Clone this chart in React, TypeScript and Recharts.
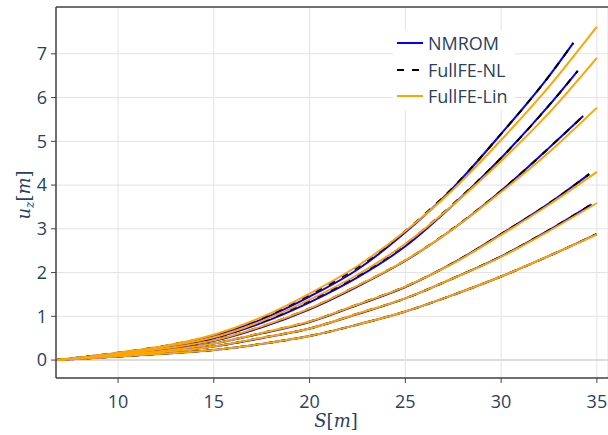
import { LineChart, Line, XAxis, YAxis, CartesianGrid, ReferenceLine, Legend } from 'recharts';

const sGrid = [6.8, 10, 12.5, 15, 17.5, 20, 22.5, 25, 27.5, 30, 32.5, 35];
// NL / NMROM runs stop a bit before S = 35
const sEnd = [33.77, 34.0, 34.29, 34.6, 34.72, 34.98];

// FullFE-Lin (orange), one array per load case, top curve first
const lin1 = [0, 0.17, 0.33, 0.58, 0.98, 1.52, 2.15, 2.95, 3.9, 5.03, 6.25, 7.62];
const lin2 = [0, 0.15, 0.31, 0.52, 0.89, 1.38, 1.95, 2.66, 3.55, 4.55, 5.65, 6.91];
const lin3 = [0, 0.13, 0.27, 0.45, 0.77, 1.18, 1.7, 2.28, 3.0, 3.84, 4.75, 5.77];
const lin4 = [0, 0.11, 0.22, 0.38, 0.62, 0.88, 1.27, 1.68, 2.21, 2.86, 3.55, 4.3];
const lin5 = [0, 0.1, 0.19, 0.31, 0.51, 0.72, 1.06, 1.41, 1.87, 2.36, 2.95, 3.59];
const lin6 = [0, 0.08, 0.15, 0.23, 0.37, 0.55, 0.81, 1.11, 1.49, 1.91, 2.38, 2.87];

// FullFE-NL (black dashed), last value sits at sEnd
const nl1 = [0, 0.17, 0.33, 0.57, 0.96, 1.49, 2.12, 2.95, 3.95, 5.17, 6.49, 7.25];
const nl2 = [0, 0.15, 0.3, 0.51, 0.87, 1.36, 1.93, 2.65, 3.57, 4.62, 5.82, 6.61];
const nl3 = [0, 0.13, 0.27, 0.45, 0.77, 1.18, 1.7, 2.28, 3.01, 3.87, 4.85, 5.58];
const nl4 = [0, 0.11, 0.22, 0.38, 0.62, 0.88, 1.27, 1.68, 2.22, 2.88, 3.58, 4.25];
const nl5 = [0, 0.1, 0.19, 0.31, 0.51, 0.72, 1.06, 1.41, 1.87, 2.37, 2.97, 3.56];
const nl6 = [0, 0.08, 0.15, 0.23, 0.37, 0.55, 0.81, 1.11, 1.49, 1.91, 2.38, 2.88];

// NMROM (blue)
const rom1 = [0, 0.16, 0.32, 0.55, 0.93, 1.45, 2.07, 2.92, 3.94, 5.17, 6.49, 7.25];
const rom2 = [0, 0.14, 0.29, 0.5, 0.85, 1.32, 1.89, 2.6, 3.55, 4.62, 5.82, 6.61];
const rom3 = [0, 0.13, 0.26, 0.44, 0.75, 1.16, 1.68, 2.27, 3.0, 3.87, 4.85, 5.58];
const rom4 = [0, 0.11, 0.22, 0.38, 0.61, 0.87, 1.26, 1.67, 2.22, 2.88, 3.58, 4.25];
const rom5 = [0, 0.1, 0.19, 0.31, 0.5, 0.72, 1.05, 1.41, 1.87, 2.37, 2.97, 3.56];
const rom6 = [0, 0.08, 0.15, 0.23, 0.37, 0.55, 0.81, 1.11, 1.49, 1.91, 2.38, 2.88];

const xTicks = [10, 15, 20, 25, 30, 35];
const yTicks = [0, 1, 2, 3, 4, 5, 6, 7];
const legendNames = ['NMROM', 'FullFE-NL', 'FullFE-Lin'];

const linSets = [lin1, lin2, lin3, lin4, lin5, lin6];
const nlSets = [nl1, nl2, nl3, nl4, nl5, nl6];
const romSets = [rom1, rom2, rom3, rom4, rom5, rom6];

const X_DOMAIN = [6.76, 35.58];
const Y_DOMAIN = [-0.41, 8.07];
const FONT = '"Open Sans", Verdana, Arial, sans-serif';
const TEXT = '#2a3f5f';

const toPts = (xs: number[], ys: number[]) => ys.map((u, i) => ({ s: xs[i], u }));
const endGrid = (k: number) => [...sGrid.slice(0, 11), sEnd[k]];

const styles = [
  { color: '#0000ff', dash: undefined },
  { color: '#000000', dash: '7 8' },
  { color: '#ffa500', dash: undefined },
];

function LegendBox() {
  return (
    <div style={{ background: '#fff', width: 122, fontFamily: FONT }}>
      {legendNames.map((name, i) => (
        <div key={name} style={{ display: 'flex', alignItems: 'center', height: 26.5 }}>
          <svg width={35} height={10} style={{ flex: 'none' }}>
            <line x1={4} x2={30} y1={5} y2={5} stroke={styles[i].color} strokeWidth={2} strokeDasharray={styles[i].dash} />
          </svg>
          <span style={{ fontSize: 18, color: TEXT, lineHeight: 1 }}>{name}</span>
        </div>
      ))}
    </div>
  );
}

export default function App() {
  const tickStyle = { fill: TEXT, fontSize: 18, fontFamily: FONT };
  return (
    <div style={{ width: 608, height: 435, position: 'relative', background: '#fff', overflow: 'hidden' }}>
      <style>{'html, body { margin: 0; padding: 0; }'}</style>
      <LineChart width={608} height={435} margin={{ top: 7, right: 0, bottom: 0, left: 0 }}>
        <CartesianGrid stroke="#e3e3e3" strokeWidth={1} />
        <XAxis
          type="number"
          dataKey="s"
          domain={X_DOMAIN}
          ticks={xTicks}
          allowDataOverflow
          height={57}
          tickSize={5}
          tickMargin={12}
          axisLine={{ stroke: '#444', strokeWidth: 1.5 }}
          tickLine={{ stroke: '#444' }}
          tick={tickStyle}
        />
        <YAxis
          type="number"
          dataKey="u"
          domain={Y_DOMAIN}
          ticks={yTicks}
          allowDataOverflow
          width={56}
          tickSize={5}
          tickMargin={4}
          axisLine={{ stroke: '#444', strokeWidth: 1.5 }}
          tickLine={{ stroke: '#444' }}
          tick={tickStyle}
        />
        <ReferenceLine y={0} stroke="#dcdcdc" strokeWidth={2} />
        <ReferenceLine y={Y_DOMAIN[1]} stroke="#444" strokeWidth={1.5} />

        {romSets.map((ys, k) => (
          <Line key={'rom' + k} data={toPts(endGrid(k), ys)} dataKey="u" type="monotone" stroke="#0000ff"
            strokeWidth={2} dot={false} activeDot={false} isAnimationActive={false} legendType="none" />
        ))}
        {nlSets.map((ys, k) => (
          <Line key={'nl' + k} data={toPts(endGrid(k), ys)} dataKey="u" type="monotone" stroke="#000000"
            strokeWidth={2} strokeDasharray="7 8" dot={false} activeDot={false} isAnimationActive={false} legendType="none" />
        ))}
        {linSets.map((ys, k) => (
          <Line key={'lin' + k} data={toPts(sGrid, ys)} dataKey="u" type="monotone" stroke="#ffa500"
            strokeWidth={2} dot={false} activeDot={false} isAnimationActive={false} legendType="none" />
        ))}

        <Legend
          layout="vertical"
          align="center"
          verticalAlign="middle"
          wrapperStyle={{ left: 393, top: 30, width: 122 }}
          content={() => <LegendBox />}
        />
      </LineChart>

      <div style={{ position: 'absolute', left: 336, top: 412, transform: 'translateX(-50%)', fontFamily: '"DejaVu Serif", serif', fontSize: 18, color: TEXT, whiteSpace: 'nowrap', lineHeight: 1 }}>
        <i>S</i>[<i>m</i>]
      </div>
      <div style={{ position: 'absolute', left: 25, top: 195, transform: 'translate(-50%, -50%) rotate(-90deg)', fontFamily: '"DejaVu Serif", serif', fontSize: 18, color: TEXT, whiteSpace: 'nowrap', lineHeight: 1.2 }}>
        <i>u</i><sub style={{ fontSize: 12 }}><i>z</i></sub>[<i>m</i>]
      </div>
    </div>
  );
}
